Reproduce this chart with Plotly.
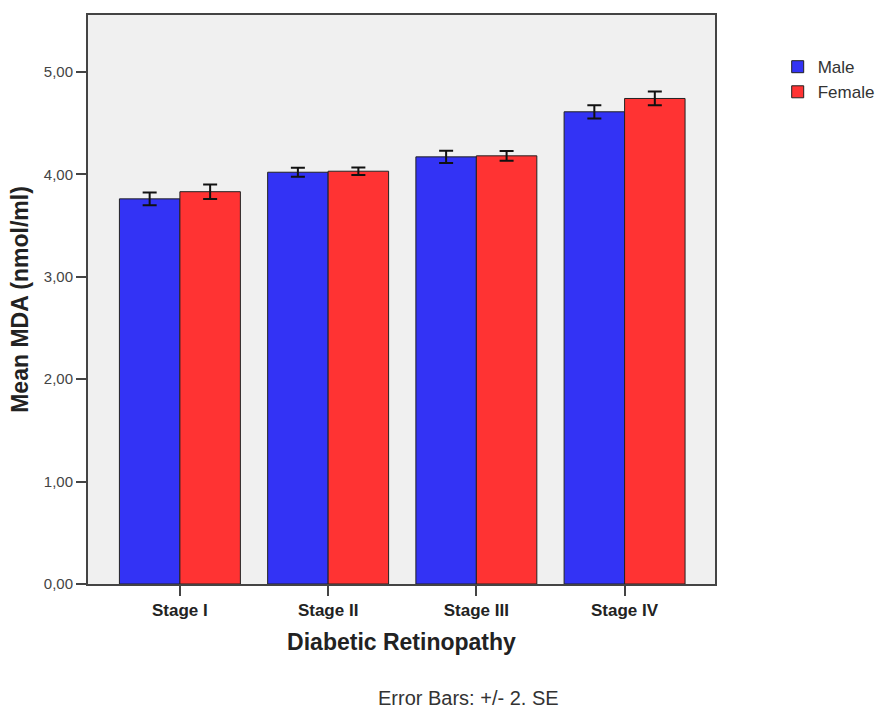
import plotly.graph_objects as go

categories = ["Stage I", "Stage II", "Stage III", "Stage IV"]
male_mean = [3.76, 4.02, 4.17, 4.61]
male_err = [0.062, 0.043, 0.059, 0.065]
female_mean = [3.83, 4.03, 4.18, 4.74]
female_err = [0.071, 0.037, 0.047, 0.067]
ytick_vals = [0, 1, 2, 3, 4, 5]
ytick_text = ["0,00", "1,00", "2,00", "3,00", "4,00", "5,00"]

FONT = "Liberation Sans, Arial, sans-serif"

fig = go.Figure()
fig.add_trace(go.Bar(
    x=categories, y=male_mean, name="Male",
    marker=dict(color="#3333f5", line=dict(color="#222222", width=1)),
    error_y=dict(type="data", array=male_err, color="#111111", thickness=2, width=7),
))
fig.add_trace(go.Bar(
    x=categories, y=female_mean, name="Female",
    marker=dict(color="#ff3333", line=dict(color="#222222", width=1)),
    error_y=dict(type="data", array=female_err, color="#111111", thickness=2, width=7),
))

fig.update_layout(
    width=876, height=711,
    barmode="group", bargap=0.184, bargroupgap=0,
    plot_bgcolor="#f0f0f0", paper_bgcolor="white",
    margin=dict(l=88, r=161, t=15, b=127, autoexpand=False),
    font=dict(family=FONT, color="#333333"),
    legend=dict(x=1.1, y=0.94, xanchor="left", yanchor="top",
                font=dict(size=17, color="#333333"), itemwidth=30,
                tracegroupgap=0, bgcolor="rgba(0,0,0,0)"),
    showlegend=True,
)
fig.update_xaxes(
    range=[-0.62, 3.61], showline=True, linecolor="#444444", linewidth=2, mirror=True,
    ticks="outside", ticklen=10, tickwidth=1.5, tickcolor="#444444",
    tickfont=dict(size=17, color="#222222", family=FONT, weight="bold"),
    title=dict(text="<b>Diabetic Retinopathy</b>", font=dict(size=23, color="#222222"), standoff=14),
    showgrid=False,
)
fig.update_yaxes(
    range=[0, 5.555], showline=True, linecolor="#444444", linewidth=2, mirror=True,
    tickvals=ytick_vals, ticktext=ytick_text,
    ticks="outside", ticklen=10, tickwidth=1.5, tickcolor="#444444",
    tickfont=dict(size=15, color="#444444"),
    title=dict(text="<b>Mean MDA (nmol/ml)</b>", font=dict(size=23, color="#222222"), standoff=9),
    showgrid=False, zeroline=False,
)
fig.add_annotation(
    text="Error Bars: +/- 2. SE", xref="paper", yref="paper",
    x=(468 - 88) / 627, y=-(698 - 584) / 569, xanchor="center", yanchor="middle",
    showarrow=False, font=dict(size=20, color="#333333"),
)

fig.write_html("out.html", config={"displayModeBar": False},
               post_script="document.body.style.margin='0';")
